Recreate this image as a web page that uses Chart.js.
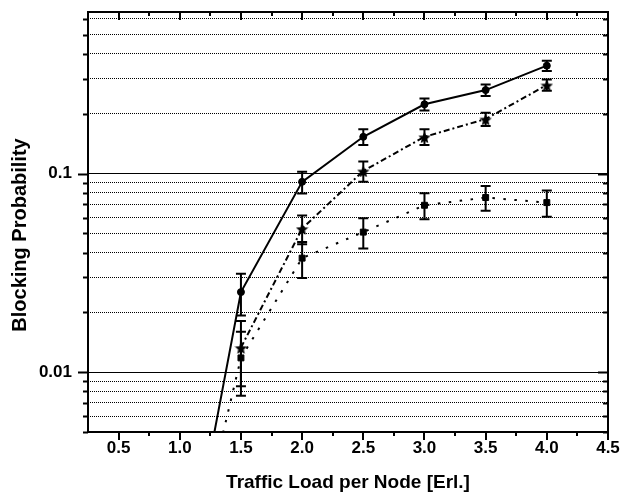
<!DOCTYPE html>
<html lang="en">
<head>
<meta charset="UTF-8">
<title>Blocking Probability vs Traffic Load</title>
<script src="https://cdn.jsdelivr.net/npm/chart.js"></script>
<style>
  body { margin: 0; background: #fff; }
  #chart { display: block; }
</style>
</head>
<body>
<canvas id="chart" width="625" height="500"></canvas>
<script>
// values (error = +/- half width of the bar)
const loads = [1.0, 1.5, 2.0, 2.5, 3.0, 3.5, 4.0];
const circleVals = [0.0006, 0.0253, 0.0908, 0.153, 0.223, 0.263, 0.349];
const circleErr  = [null, 0.006, 0.0114, 0.014, 0.0155, 0.0175, 0.0205];
const starVals   = [null, 0.0133, 0.0528, 0.103, 0.153, 0.188, 0.279];
const starErr    = [null, 0.0048, 0.0087, 0.012, 0.014, 0.0145, 0.018];
const squareVals = [0.0006, 0.0118, 0.0375, 0.0507, 0.0692, 0.0757, 0.0714];
const squareErr  = [null, 0.0042, 0.0077, 0.0088, 0.0103, 0.0108, 0.0108];

const xTicks = [0.5, 1.0, 1.5, 2.0, 2.5, 3.0, 3.5, 4.0, 4.5];
const yLabelTicks = [0.01, 0.1];
const yGridTicks = [0.005, 0.006, 0.007, 0.008, 0.009, 0.01,
                    0.02, 0.03, 0.04, 0.05, 0.06, 0.07, 0.08, 0.09, 0.1,
                    0.2, 0.3, 0.4, 0.5, 0.6];
const yTitle = 'Blocking Probability';
const xTitle = 'Traffic Load per Node [Erl.]';

const FONT = '"Liberation Sans", Arial, sans-serif';

// filled five point star for the middle series
function starImage(size) {
    const c = document.createElement('canvas');
    c.width = c.height = size;
    const g = c.getContext('2d');
    const r = size / 2, ri = r * 0.45;
    g.beginPath();
    for (let i = 0; i < 10; i++) {
        const a = -Math.PI / 2 + i * Math.PI / 5;
        const rr = i % 2 ? ri : r;
        g.lineTo(r + rr * Math.cos(a), r + 1 + rr * Math.sin(a));
    }
    g.closePath();
    g.fillStyle = '#000';
    g.fill();
    return c;
}

function points(vals) {
    return loads.map((x, i) => ({ x: x, y: vals[i] }));
}

// frame, tick marks, error bars and the y title (sits a bit below centre)
const framePlugin = {
    id: 'frameAndBars',
    afterDatasetsDraw(chart) {
        const { ctx, chartArea: a, scales: { x, y } } = chart;
        ctx.save();
        ctx.strokeStyle = '#000';

        // error bars
        ctx.beginPath();
        ctx.rect(a.left, a.top, a.width, a.height);
        ctx.clip();
        ctx.lineWidth = 2;
        chart.data.datasets.forEach(ds => {
            ds.data.forEach((p, i) => {
                const e = ds.errors[i];
                if (e == null || p.y == null) return;
                const px = x.getPixelForValue(p.x);
                const top = y.getPixelForValue(p.y + e);
                const bot = y.getPixelForValue(p.y - e);
                ctx.beginPath();
                ctx.moveTo(px, top); ctx.lineTo(px, bot);
                ctx.moveTo(px - 5, top); ctx.lineTo(px + 5, top);
                ctx.moveTo(px - 5, bot); ctx.lineTo(px + 5, bot);
                ctx.stroke();
            });
        });
        ctx.restore();

        ctx.save();
        ctx.strokeStyle = '#000';
        ctx.lineWidth = 2;
        ctx.beginPath();
        // x ticks: bottom outward, top inward
        const xAll = [];
        xTicks.forEach(v => { xAll.push([v, 8]); xAll.push([v - 0.25, 4]); });
        xAll.forEach(([v, len]) => {
            if (v <= x.min || v >= x.max + 1e-9) return;
            const px = Math.round(x.getPixelForValue(v));
            ctx.moveTo(px, a.bottom); ctx.lineTo(px, a.bottom + len);
            ctx.moveTo(px, a.top); ctx.lineTo(px, a.top + len);
        });
        // y ticks: left outward, right inward
        yGridTicks.forEach(v => {
            const len = yLabelTicks.includes(v) ? 10 : 5;
            const py = Math.round(y.getPixelForValue(v)) + 0.5;
            ctx.moveTo(a.left, py); ctx.lineTo(a.left - len, py);
            ctx.moveTo(a.right, py); ctx.lineTo(a.right - len, py);
        });
        ctx.stroke();
        ctx.strokeRect(a.left, a.top, a.width, a.height);

        // y axis title
        ctx.translate(26, 235);
        ctx.rotate(-Math.PI / 2);
        ctx.fillStyle = '#000';
        ctx.font = 'bold 20px ' + FONT;
        ctx.textAlign = 'center';
        ctx.textBaseline = 'alphabetic';
        ctx.fillText(yTitle, 0, 0);
        ctx.restore();
    }
};

new Chart(document.getElementById('chart'), {
    type: 'line',
    data: {
        datasets: [
            {
                data: points(circleVals), errors: circleErr,
                borderColor: '#000', borderWidth: 2,
                pointStyle: 'circle', pointRadius: 3.5,
                pointBackgroundColor: '#000', pointBorderColor: '#000', pointBorderWidth: 1
            },
            {
                data: points(starVals), errors: starErr,
                borderColor: '#000', borderWidth: 2, borderDash: [6, 3, 2, 3],
                pointStyle: starImage(13), pointRadius: 6
            },
            {
                data: points(squareVals), errors: squareErr,
                borderColor: '#000', borderWidth: 2, borderDash: [2.5, 8.5],
                pointStyle: 'rect', pointRadius: 4.2,
                pointBackgroundColor: '#000', pointBorderColor: '#000', pointBorderWidth: 1
            }
        ]
    },
    options: {
        responsive: false,
        animation: false,
        layout: { padding: { top: 12, right: 17, left: 0, bottom: 0 } },
        plugins: { legend: { display: false }, tooltip: { enabled: false } },
        scales: {
            x: {
                type: 'linear',
                min: 0.25,
                max: 4.5,
                afterBuildTicks: s => { s.ticks = xTicks.map(v => ({ value: v })); },
                afterFit: s => { s.height = 68; s.paddingLeft = 0; s.paddingRight = 0; },
                grid: { display: false, drawTicks: false },
                border: { display: false },
                ticks: {
                    autoSkip: false,
                    maxRotation: 0,
                    padding: 6,
                    color: '#000',
                    font: { family: FONT, size: 17, weight: 'bold' },
                    callback: v => v.toFixed(1)
                },
                title: {
                    display: true,
                    text: xTitle,
                    color: '#000',
                    padding: { top: 0, bottom: 6 },
                    font: { family: FONT, size: 19, weight: 'bold' }
                }
            },
            y: {
                type: 'logarithmic',
                min: 0.005,
                max: 0.65,
                afterBuildTicks: s => {
                    s.ticks = yGridTicks.map(v => ({ value: v, major: yLabelTicks.includes(v) }));
                },
                afterFit: s => { s.width = 88; s.paddingTop = 0; s.paddingBottom = 0; },
                grid: { color: '#000', lineWidth: 1, drawTicks: false },
                border: {
                    display: false,
                    dash: c => (c.tick && !c.tick.major) ? [1, 1] : []
                },
                ticks: {
                    autoSkip: false,
                    padding: 16,
                    color: '#000',
                    font: { family: FONT, size: 17, weight: 'bold' },
                    callback: v => yLabelTicks.includes(v) ? String(v) : ''
                },
                title: { display: false }
            }
        }
    },
    plugins: [framePlugin]
});
</script>
</body>
</html>
